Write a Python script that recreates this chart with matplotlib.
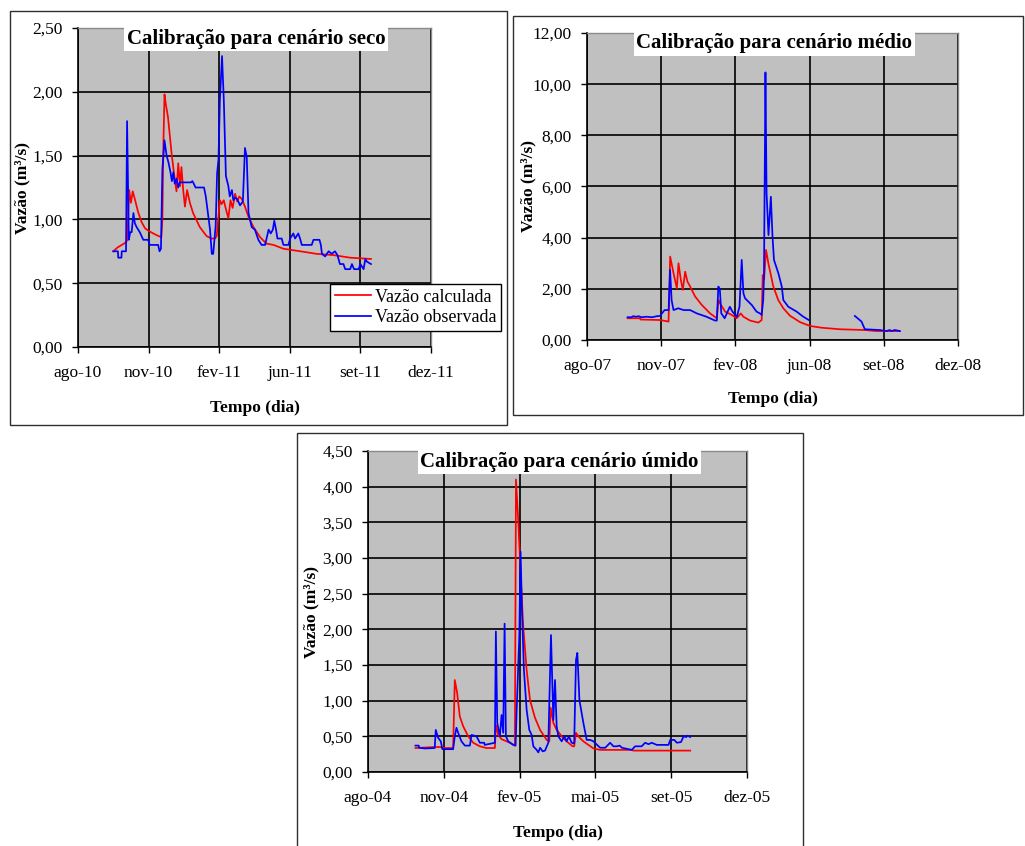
import numpy as np
import matplotlib
matplotlib.use("Agg")
import matplotlib.pyplot as plt
from matplotlib.patches import Rectangle
from matplotlib.ticker import FuncFormatter

plt.rcParams['font.family'] = ['Liberation Serif', 'DejaVu Serif']

# ---------------- DATA (x = days since start of x axis, 100 days per major tick) -------------
# Cenário seco (axis starts ~10-ago-2010)
dias_calc_seco = [50, 56, 62, 68, 70, 71.5, 72.5, 75, 77.5, 80, 85, 90, 95, 100, 110, 118, 119.5, 121,
                  122.5, 124.5, 127.5, 132.5, 136, 139.5, 142, 144.5, 146.5, 149, 151.5, 154.5, 158.5,
                  163, 172.5, 182, 189, 194, 196.5, 198.5, 201, 203.5, 206.5, 209.5, 213, 216, 219,
                  222.5, 225.5, 228.5, 232, 236.5, 241.5, 248.5, 258, 267, 277, 291, 315, 338, 362,
                  385.5, 415]
vazao_calc_seco = [0.75, 0.78, 0.80, 0.82, 0.84, 1.10, 1.23, 1.13, 1.22, 1.17, 1.06, 0.98, 0.93, 0.91,
                   0.88, 0.86, 1.00, 1.60, 1.98, 1.90, 1.80, 1.52, 1.36, 1.22, 1.44, 1.26, 1.41, 1.23,
                   1.10, 1.23, 1.13, 1.05, 0.94, 0.87, 0.85, 0.85, 0.87, 1.00, 1.15, 1.12, 1.15, 1.08,
                   1.01, 1.15, 1.09, 1.20, 1.14, 1.18, 1.16, 1.10, 1.02, 0.94, 0.86, 0.81, 0.80, 0.77,
                   0.75, 0.73, 0.72, 0.70, 0.69]
dias_obs_seco = [50, 56.5, 57, 61.5, 62, 68, 69.5, 72, 74, 76, 78.5, 80.5, 83, 87.5, 90, 92.5, 99.5,
                 101.5, 113.5, 115.5, 117.5, 119.5, 122.5, 125.5, 128, 131, 133, 135, 137, 139.5, 142,
                 144, 160, 162, 164, 166.5, 178.5, 181, 184, 187, 189.5, 191.5, 195, 197, 199, 201, 204,
                 206.5, 209.5, 213, 215, 218, 220, 222.5, 225.5, 229.5, 233.5, 236.5, 239, 241.5, 246,
                 250.5, 255.5, 260, 265, 267.5, 270, 273, 276, 278, 280.5, 282.5, 288.5, 291, 298,
                 300.5, 305, 307.5, 312, 314.5, 317, 331, 333.5, 342, 344, 345.5, 350, 355, 359.5, 364,
                 367.5, 371, 376, 378.5, 385.5, 388, 391, 397.5, 400, 404.5, 407, 409, 415]
vazao_obs_seco = [0.75, 0.75, 0.70, 0.70, 0.75, 0.75, 1.77, 0.84, 0.90, 0.90, 1.05, 0.97, 0.94, 0.90,
                  0.87, 0.84, 0.84, 0.80, 0.80, 0.75, 0.77, 1.39, 1.62, 1.50, 1.45, 1.37, 1.30, 1.37,
                  1.28, 1.32, 1.25, 1.29, 1.29, 1.30, 1.28, 1.25, 1.25, 1.18, 1.05, 0.92, 0.73, 0.73,
                  0.95, 1.36, 1.47, 1.94, 2.28, 1.94, 1.34, 1.26, 1.18, 1.23, 1.15, 1.17, 1.16, 1.11,
                  1.14, 1.56, 1.49, 1.05, 0.94, 0.92, 0.84, 0.80, 0.80, 0.86, 0.92, 0.89, 0.92, 0.99,
                  0.92, 0.85, 0.85, 0.80, 0.80, 0.85, 0.89, 0.85, 0.89, 0.85, 0.80, 0.80, 0.84, 0.84,
                  0.80, 0.73, 0.71, 0.75, 0.73, 0.75, 0.72, 0.65, 0.65, 0.61, 0.61, 0.65, 0.61, 0.61,
                  0.65, 0.61, 0.69, 0.67, 0.65]
x_labels_seco = ['ago-10', 'nov-10', 'fev-11', 'jun-11', 'set-11', 'dez-11']
y_ticks_seco = [0.0, 0.5, 1.0, 1.5, 2.0, 2.5]

# Cenário médio (axis starts ~06-ago-2007)
dias_calc_medio = [54.7, 71.7, 72, 98.7, 109.9, 112.1, 116.6, 121.1, 123.3, 126.5, 129.1, 132.3, 135.4,
                   139, 145.7, 154.7, 165.9, 174.9, 177.1, 179.4, 186.1, 195.1, 201.8, 207.2, 210.8,
                   219.7, 230.9, 235.4, 236.8, 238.6, 241.3, 244.4, 251.1, 257.8, 264.6, 273.5, 287,
                   300.4, 316.1, 340.8, 374.4, 390.1, 421.5]
vazao_calc_medio = [0.85, 0.85, 0.80, 0.78, 0.72, 3.26, 2.61, 2.02, 3.00, 2.35, 1.96, 2.67, 2.28, 2.09,
                    1.70, 1.37, 1.04, 0.85, 1.56, 1.43, 1.11, 0.98, 0.85, 1.04, 0.91, 0.76, 0.68, 0.78,
                    2.54, 2.35, 3.52, 3.00, 2.09, 1.56, 1.24, 0.95, 0.70, 0.55, 0.48, 0.42, 0.39, 0.35,
                    0.35]
dias_obs_medio = [54.7, 60, 62, 66, 70, 73, 80, 88, 94, 98.5, 101, 104.5, 110, 112, 114, 116.6, 123, 130,
                  139, 148, 161, 172.5, 175, 177, 179, 181, 185.5, 192.5, 196, 202, 205.5, 208.5, 210.8,
                  213, 222, 228.5, 233, 235.4, 237.5, 238.5, 239.5, 240.5, 242, 244.6, 247.8, 250, 252,
                  258, 262.5, 264.6, 271.3, 282.5, 291.5, 299, 330, 361, 370, 374.4, 394.6, 403.6, 408,
                  410, 415, 421.5]
vazao_obs_medio = [0.89, 0.89, 0.93, 0.91, 0.93, 0.89, 0.91, 0.89, 0.93, 0.94, 1.04, 1.17, 1.17, 2.74,
                   1.56, 1.17, 1.24, 1.17, 1.17, 1.04, 0.91, 0.76, 0.76, 2.09, 2.00, 1.04, 0.85, 1.30,
                   1.11, 0.91, 1.30, 3.13, 1.83, 1.63, 1.37, 1.11, 1.04, 0.98, 1.56, 2.48, 6.40, 10.46,
                   5.74, 4.10, 5.60, 4.04, 3.13, 2.60, 2.09, 1.56, 1.30, 1.11, 0.91, 0.78, np.nan, 0.94,
                   0.72, 0.42, 0.39, 0.35, 0.39, 0.35, 0.39, 0.35]
x_labels_medio = ['ago-07', 'nov-07', 'fev-08', 'jun-08', 'set-08', 'dez-08']
y_ticks_medio = [0, 2, 4, 6, 8, 10, 12]

# Cenário úmido (axis starts ~01-ago-2004)
dias_calc_umido = [62.6, 88, 96, 98.2, 112.3, 114.5, 117.6, 121.1, 125.6, 132.2, 138.8, 147.6, 156.4,
                   167.4, 168.7, 171.8, 176.2, 182.8, 189, 193.8, 195.2, 198.2, 201.3, 204.8, 209.3,
                   213.7, 220.3, 227, 235.7, 239.2, 241, 244.5, 248.9, 255.5, 262, 270, 272, 274.4,
                   277.5, 284.1, 290.7, 297.4, 306, 348, 350, 425.1]
vazao_calc_umido = [0.336, 0.35, 0.35, 0.336, 0.336, 1.29, 1.11, 0.78, 0.64, 0.50, 0.41, 0.36, 0.336,
                    0.336, 0.66, 0.52, 0.46, 0.43, 0.40, 0.37, 4.10, 3.53, 2.78, 2.04, 1.43, 1.01, 0.76,
                    0.59, 0.45, 0.43, 0.90, 0.69, 0.59, 0.50, 0.43, 0.36, 0.36, 0.55, 0.50, 0.43, 0.38,
                    0.33, 0.31, 0.31, 0.30, 0.30]
dias_obs_umido = [62.6, 67, 67.4, 75, 88, 89.4, 92.5, 96, 98.2, 112.3, 114.5, 116.7, 118.9, 123.3, 127.8,
                  134.4, 136.6, 143.2, 147.6, 153.3, 154, 167.4, 168.7, 170.5, 174, 176.2, 178.4, 180.2,
                  181.9, 185, 191.6, 194.7, 196, 199.6, 201.3, 203.1, 205.7, 209.3, 212.8, 215.9, 218.1,
                  222.5, 224.7, 227, 230.4, 233.5, 237.9, 241.4, 244.5, 246.7, 248.9, 251.1, 255.5, 259,
                  262, 265, 268.7, 272, 274.4, 276.2, 278.9, 284.1, 288.5, 293, 297.4, 306.2, 313, 319.4,
                  323.8, 328, 332, 335, 348, 352.4, 361, 365.6, 370, 374.4, 381, 396.5, 398.7, 404,
                  407.5, 413, 416.3, 419.8, 421.6, 425.1]
vazao_obs_umido = [0.37, 0.37, 0.34, 0.33, 0.336, 0.59, 0.48, 0.43, 0.32, 0.32, 0.50, 0.62, 0.55, 0.43,
                   0.37, 0.37, 0.52, 0.50, 0.41, 0.41, 0.38, 0.41, 1.97, 0.69, 0.50, 0.80, 0.55, 2.08,
                   0.50, 0.43, 0.38, 0.37, 0.83, 1.90, 3.09, 2.27, 1.43, 0.87, 0.59, 0.52, 0.36, 0.31,
                   0.275, 0.34, 0.29, 0.30, 0.41, 1.92, 0.73, 1.29, 0.64, 0.50, 0.43, 0.50, 0.43, 0.50,
                   0.41, 0.40, 1.57, 1.67, 1.01, 0.69, 0.45, 0.45, 0.43, 0.34, 0.34, 0.41, 0.36, 0.36,
                   0.37, 0.34, 0.31, 0.36, 0.36, 0.41, 0.39, 0.41, 0.38, 0.38, 0.45, 0.45, 0.41, 0.42,
                   0.50, 0.49, 0.51, 0.49]
x_labels_umido = ['ago-04', 'nov-04', 'fev-05', 'mai-05', 'set-05', 'dez-05']
y_ticks_umido = [0.0, 0.5, 1.0, 1.5, 2.0, 2.5, 3.0, 3.5, 4.0, 4.5]

titulos = ['Calibração para cenário seco', 'Calibração para cenário médio', 'Calibração para cenário úmido']
serie_nomes = ['Vazão calculada', 'Vazão observada']

# ---------------- FIGURE ----------------
W, H = 1025, 846
fig = plt.figure(figsize=(W / 100, H / 100), dpi=100)
fig.patch.set_facecolor('white')


def px_axes(l, t, r, b):
    return [l / W, 1 - b / H, (r - l) / W, (b - t) / H]


def frame(l, t, r, b):
    fig.add_artist(Rectangle((l / W, 1 - b / H), (r - l) / W, (b - t) / H,
                             transform=fig.transFigure, fill=False, ec='#2e2e2e', lw=1.0))


frame(10, 11, 507, 425)
frame(513, 16, 1023, 415)
frame(297, 433, 803, 852)

fmt = FuncFormatter(lambda v, p: f"{v:.2f}".replace('.', ','))

panels = [
    (px_axes(78, 28, 431, 347), dias_calc_seco, vazao_calc_seco, dias_obs_seco, vazao_obs_seco,
     x_labels_seco, y_ticks_seco, titulos[0], -0.136),
    (px_axes(587, 33, 958, 340), dias_calc_medio, vazao_calc_medio, dias_obs_medio, vazao_obs_medio,
     x_labels_medio, y_ticks_medio, titulos[1], -0.137),
    (px_axes(368, 451, 747, 772), dias_calc_umido, vazao_calc_umido, dias_obs_umido, vazao_obs_umido,
     x_labels_umido, y_ticks_umido, titulos[2], -0.129),
]

axes = []
for rect, dc, vc, do, vo, xl, yt, tit, ylx in panels:
    ax = fig.add_axes(rect)
    axes.append(ax)
    ax.set_facecolor('#C0C0C0')
    ax.set_axisbelow(True)
    ax.plot(dc, vc, color='#FF0000', lw=1.25, label=serie_nomes[0])
    ax.plot(do, vo, color='#0000FF', lw=1.25, label=serie_nomes[1])
    xt = [100 * i for i in range(len(xl))]
    ax.set_xlim(xt[0], xt[-1])
    ax.set_ylim(yt[0], yt[-1])
    ax.set_xticks(xt)
    ax.set_xticklabels(xl)
    ax.set_yticks(yt)
    ax.yaxis.set_major_formatter(fmt)
    ax.grid(True, color='black', lw=1.2)
    ax.tick_params(direction='out', length=4, width=1, color='black', labelsize=12.5)
    ax.tick_params(axis='x', pad=9)
    ax.tick_params(axis='y', pad=7)
    for s in ['left', 'bottom']:
        ax.spines[s].set_color('black')
        ax.spines[s].set_linewidth(1.2)
    for s in ['top', 'right']:
        ax.spines[s].set_color('#8a8a8a')
        ax.spines[s].set_linewidth(1.0)
    ax.set_xlabel('Tempo (dia)', fontsize=12.5, fontweight='bold')
    ax.set_ylabel('Vazão (m³/s)', fontsize=12.5, fontweight='bold')
    ax.yaxis.set_label_coords(ylx, 0.5)
    ax.xaxis.set_label_coords(0.5, -0.165)
    ax.text(0.505, 0.967, tit, transform=ax.transAxes, ha='center', va='center',
            fontsize=15, fontweight='bold', zorder=5,
            bbox=dict(boxstyle='square,pad=0.12', facecolor='white', edgecolor='none'))

leg = axes[0].legend(loc='upper left', bbox_to_anchor=(330 / W, 1 - 284 / H),
                     bbox_transform=fig.transFigure, fontsize=13, frameon=True, fancybox=False,
                     edgecolor='black', facecolor='white', framealpha=1, borderpad=0.25,
                     labelspacing=0.2, handlelength=2.0, handletextpad=0.25, borderaxespad=0)
leg.get_frame().set_linewidth(1.0)

fig.savefig('out.png', dpi=100, facecolor='white')
